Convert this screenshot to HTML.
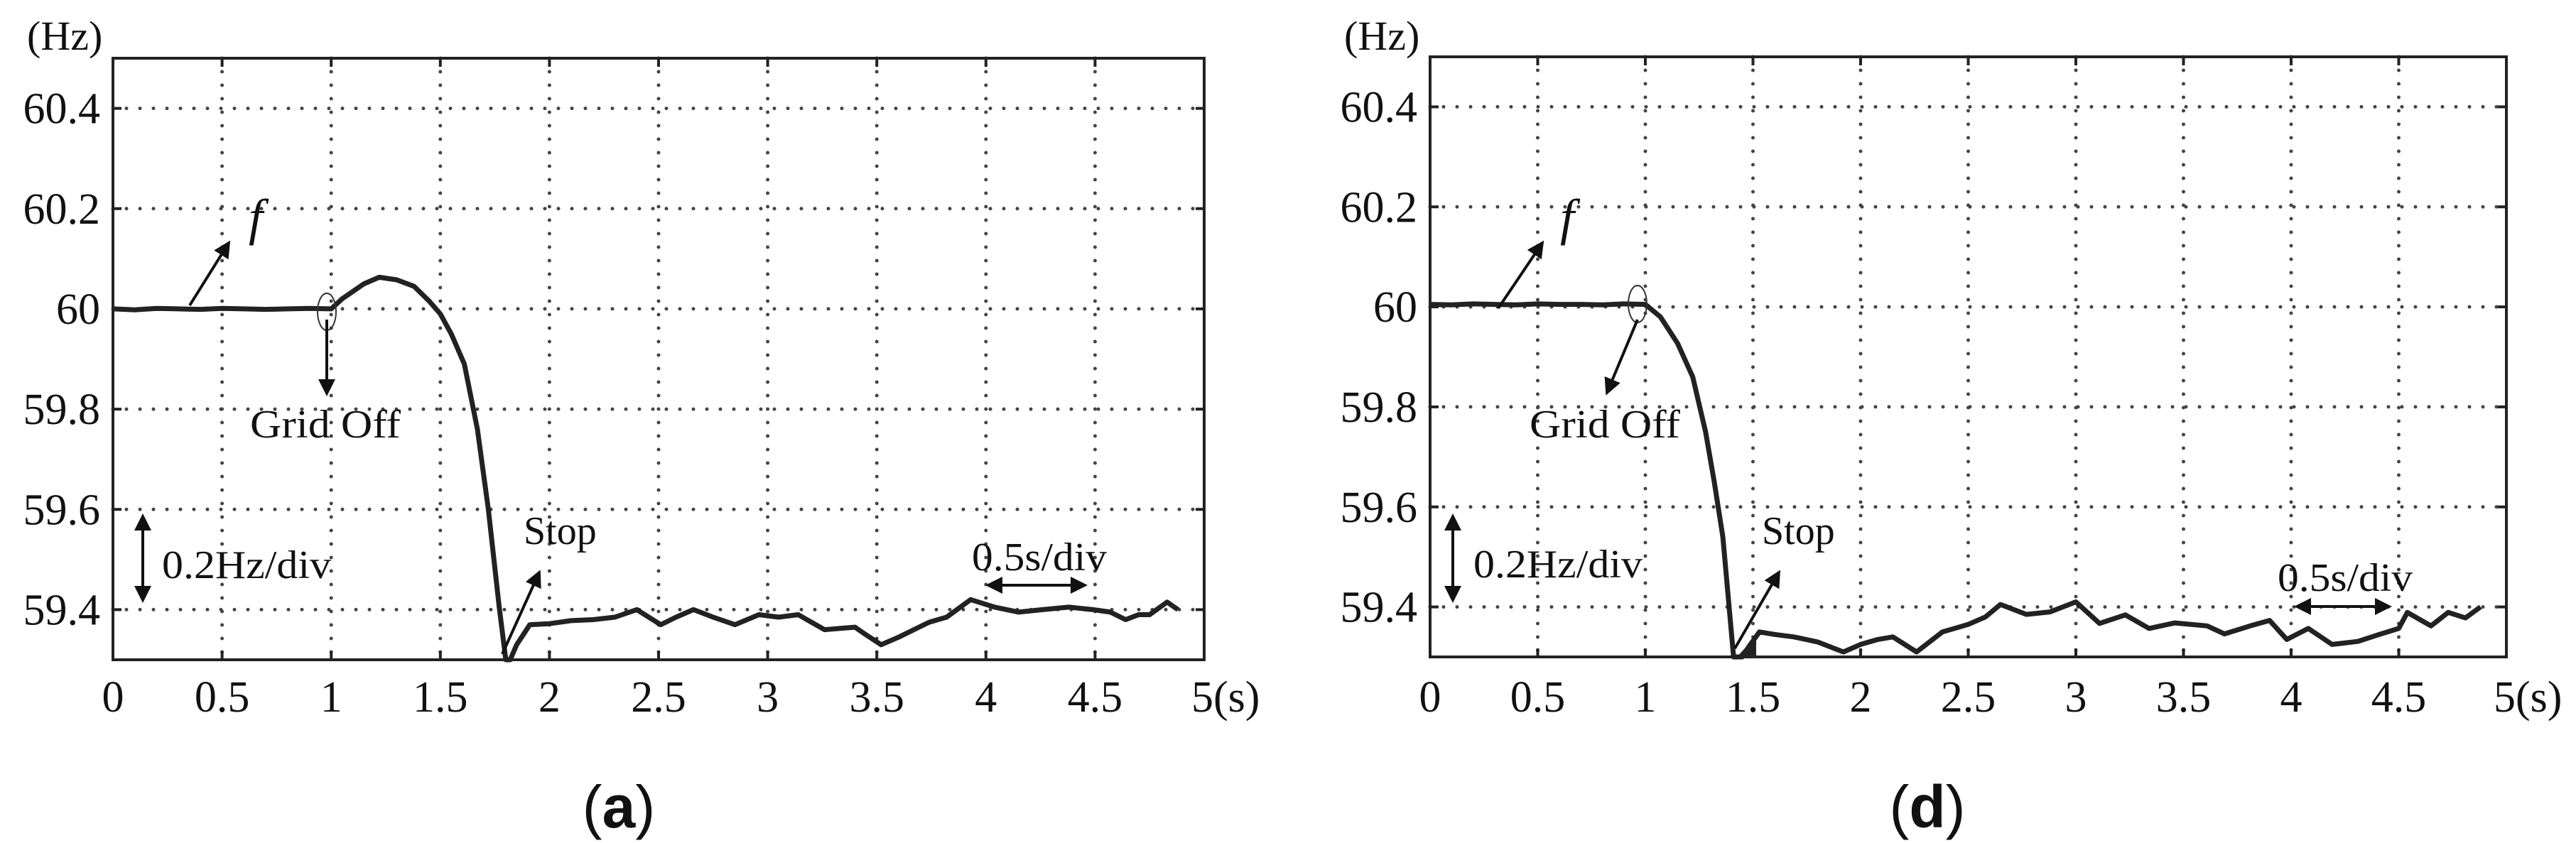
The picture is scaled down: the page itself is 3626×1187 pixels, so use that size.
<!DOCTYPE html>
<html><head><meta charset="utf-8">
<style>
html,body{margin:0;padding:0;background:#fff;}
svg{display:block;}
text{font-family:"Liberation Serif",serif;fill:#111;}
</style></head>
<body>
<svg id="fig" width="3626" height="1187" viewBox="0 0 3626 1187" xmlns="http://www.w3.org/2000/svg">
<defs>
<marker id="ah" markerWidth="6" markerHeight="6" refX="5" refY="3" orient="auto" markerUnits="strokeWidth">
<path d="M0,0 L6,3 L0,6 Z" fill="#111"/></marker>
<marker id="ahs" markerWidth="6" markerHeight="6" refX="1" refY="3" orient="auto" markerUnits="strokeWidth">
<path d="M6,0 L0,3 L6,6 Z" fill="#111"/></marker>
</defs>
</svg>
<script>
const xTicks=[0,0.5,1,1.5,2,2.5,3,3.5,4,4.5];
const xTickLabels=["0","0.5","1","1.5","2","2.5","3","3.5","4","4.5"];
const yTicks=[59.4,59.6,59.8,60,60.2,60.4];
const yTickLabels=["59.4","59.6","59.8","60","60.2","60.4"];
const tA=[0,0.1,0.2,0.3,0.4,0.5,0.6,0.7,0.8,0.9,1.0,1.05,1.1,1.15,1.22,1.3,1.38,1.45,1.5,1.55,1.61,1.67,1.72,1.77,1.8,1.82,1.85,1.91,2.0,2.1,2.2,2.3,2.4,2.51,2.58,2.66,2.75,2.85,2.96,3.05,3.14,3.26,3.4,3.45,3.52,3.6,3.67,3.74,3.82,3.93,4.04,4.15,4.26,4.38,4.49,4.57,4.64,4.7,4.75,4.83,4.88];
const fA=[60,59.998,60.001,60,59.999,60.001,60,59.999,60,60.001,60,60.02,60.035,60.05,60.063,60.058,60.045,60.015,59.99,59.95,59.89,59.76,59.6,59.405,59.3,59.3,59.33,59.37,59.372,59.378,59.38,59.385,59.4,59.37,59.385,59.4,59.385,59.37,59.39,59.385,59.39,59.36,59.365,59.35,59.33,59.345,59.36,59.375,59.385,59.42,59.405,59.395,59.4,59.405,59.4,59.395,59.38,59.39,59.39,59.415,59.4];
const tD=[0,0.1,0.2,0.3,0.4,0.5,0.6,0.7,0.8,0.9,1.0,1.07,1.15,1.22,1.28,1.32,1.36,1.41,1.45,1.48,1.53,1.6,1.69,1.8,1.92,2.0,2.08,2.15,2.26,2.38,2.5,2.58,2.65,2.77,2.88,3.0,3.11,3.23,3.34,3.46,3.61,3.69,3.81,3.9,3.98,4.08,4.19,4.31,4.41,4.5,4.54,4.65,4.73,4.81,4.88];
const fD=[60.005,60.004,60.006,60.005,60.004,60.006,60.005,60.005,60.004,60.006,60.005,59.98,59.927,59.86,59.75,59.65,59.54,59.3,59.3,59.32,59.35,59.345,59.34,59.33,59.31,59.325,59.335,59.34,59.31,59.35,59.365,59.38,59.405,59.385,59.39,59.41,59.367,59.384,59.357,59.368,59.362,59.346,59.362,59.373,59.335,59.357,59.325,59.331,59.345,59.357,59.389,59.362,59.389,59.378,59.4];

const NS="http://www.w3.org/2000/svg";
const svg=document.getElementById('fig');
function mk(tag,attrs,parent){const e=document.createElementNS(NS,tag);for(const k in attrs)e.setAttribute(k,attrs[k]);(parent||svg).appendChild(e);return e;}
function txt(s,x,y,size,anchor,parent,extra){const e=mk('text',Object.assign({x:x,y:y,'font-size':size,'text-anchor':anchor||'start'},extra||{}),parent);e.textContent=s;return e;}

function panel(cfg,ts,fs){
  const g=mk('g',{});
  
  
  const L=cfg.L,R=cfg.R,T=cfg.T,B=cfg.B;
  const X=t=>L+(t-0)/(5-0)*(R-L);
  const Y=v=>B-(v-59.3)/(60.5-59.3)*(B-T);
  const grid=mk('g',{},g);
  
  
  xTicks.forEach(t=>{if(t>0){mk('line',{x1:X(t),y1:T,x2:X(t),y2:B,stroke:'#444','stroke-width':5,'stroke-dasharray':'0 19','stroke-linecap':'round'},grid);
    mk('line',{x1:X(t),y1:T,x2:X(t),y2:T+12,stroke:'#222','stroke-width':4},grid);
    mk('line',{x1:X(t),y1:B,x2:X(t),y2:B-12,stroke:'#222','stroke-width':4},grid);}});
  yTicks.forEach(v=>{mk('line',{x1:L,y1:Y(v),x2:R,y2:Y(v),stroke:'#444','stroke-width':5,'stroke-dasharray':'0 19','stroke-linecap':'round'},grid);
    mk('line',{x1:L,y1:Y(v),x2:L+12,y2:Y(v),stroke:'#222','stroke-width':4},grid);
    mk('line',{x1:R,y1:Y(v),x2:R-12,y2:Y(v),stroke:'#222','stroke-width':4},grid);});
  const fr=mk('rect',{x:L,y:T,width:R-L,height:B-T,fill:'none',stroke:'#222','stroke-width':4},g);
  
  
  xTicks.forEach((t,i)=>{const e=txt(xTickLabels[i],X(t),1002,62,'middle',g);
    
    });
  const x5=txt('5(s)',R-18,1002,62,'start',g);
  
  
  yTicks.forEach((v,i)=>{const e=txt(yTickLabels[i],L-18,Y(v)+21,62,'end',g);
    
    });
  const hz=txt('(Hz)',L-121,70,58,'start',g);
  
  
  const pts=ts.map((t,i)=>X(t).toFixed(1)+','+Y(fs[i]).toFixed(1)).join(' ');
  const line=mk('polyline',{points:pts,fill:'none',stroke:'#222','stroke-width':7,'stroke-linejoin':'round'},g);
  
  
  const an=cfg.an;
  const a1=mk('line',{x1:an.fArrow[0],y1:an.fArrow[1],x2:an.fArrow[2],y2:an.fArrow[3],stroke:'#111','stroke-width':4,'marker-end':'url(#ah)'},g);
  
  
  const ft=txt('f',an.f[0],an.f[1],72,'start',g,{'font-style':'italic'});
  
  
  const el=mk('ellipse',{cx:an.ell[0],cy:an.ell[1],rx:13,ry:26,fill:'none',stroke:'#333','stroke-width':2},g);
  
  
  const a2=mk('line',{x1:an.gArrow[0],y1:an.gArrow[1],x2:an.gArrow[2],y2:an.gArrow[3],stroke:'#111','stroke-width':4,'marker-end':'url(#ah)'},g);
  
  
  const gt=txt('Grid Off',an.g[0],an.g[1],56,'start',g,{textLength:212,lengthAdjust:'spacingAndGlyphs'});
  
  
  const a3=mk('line',{x1:an.sArrow[0],y1:an.sArrow[1],x2:an.sArrow[2],y2:an.sArrow[3],stroke:'#111','stroke-width':4,'marker-end':'url(#ah)'},g);
  
  
  const st=txt('Stop',an.s[0],an.s[1],56,'start',g);
  
  
  if(an.blk){const b=mk('polygon',{points:an.blk,fill:'#222'},g);
    
    }
  const a4=mk('line',{x1:an.v[0],y1:727,x2:an.v[0],y2:845,stroke:'#111','stroke-width':4,'marker-end':'url(#ah)','marker-start':'url(#ahs)'},g);
  
  
  const vt=txt('0.2Hz/div',an.v[1],an.v[2],56,'start',g,{textLength:238,lengthAdjust:'spacingAndGlyphs'});
  
  
  const a5=mk('line',{x1:an.h[0],y1:an.h[2],x2:an.h[1],y2:an.h[2],stroke:'#111','stroke-width':4,'marker-end':'url(#ah)','marker-start':'url(#ahs)'},g);
  
  
  const ht=txt('0.5s/div',an.h[3],an.h[4],56,'start',g,{textLength:190,lengthAdjust:'spacingAndGlyphs'});
  
  
  const cap=mk('text',{x:an.cap,y:1165,'font-size':84,'text-anchor':'middle',style:'font-family:"Liberation Sans",sans-serif'},g);
  cap.innerHTML='(<tspan font-weight="bold">'+cfg.letter+'</tspan>)';
  
  
}
panel({name:'panel-a',letter:'a',L:159,R:1695,T:82,B:929,
  an:{fArrow:[267,430,322,342],f:[350,330],ell:[460,439],gArrow:[460,450,460,554],g:[352,616],
      sArrow:[707,921,759,806],s:[737,766],v:[201,228,814],h:[1391,1527,824,1368,803],cap:871}},tA,fA);
panel({name:'panel-d',letter:'d',L:2013,R:3528,T:80,B:925,
  an:{fArrow:[2109,434,2171,342],f:[2196,330],ell:[2305,428],gArrow:[2305,450,2262,553],g:[2153,616],
      sArrow:[2442,913,2504,806],s:[2480,766],blk:'2445,925 2472,895 2472,925',v:[2045,2074,813],h:[3233,3363,854,3206,832],cap:2713}},tD,fD);
</script>
</body></html>
